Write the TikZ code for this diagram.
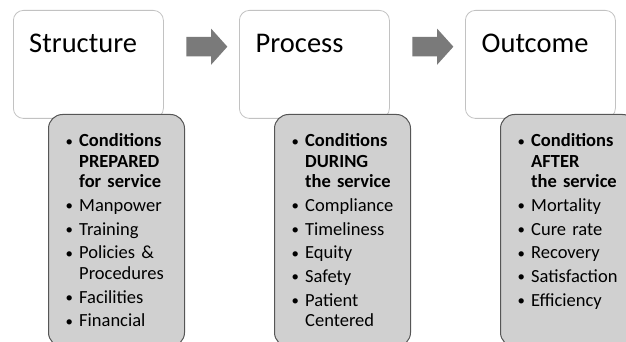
\documentclass[tikz,border=0pt]{standalone}
\usepackage{fontspec}
\setmainfont{Carlito}
\usetikzlibrary{shapes.arrows}

\definecolor{stageline}{HTML}{C2C2C2}
\definecolor{listfill}{HTML}{D0D0D0}
\definecolor{listline}{HTML}{565656}
\definecolor{flowgray}{HTML}{7A7A7A}

% bullet list lines: first item, further items, wrapped continuation lines
\newcommand{\bulletmark}{\makebox[13.5pt][l]{\raisebox{0.6pt}{\scalebox{0.8}{•}}}}
\newcommand{\firstitem}[1]{\noindent\bulletmark#1}
\newcommand{\nextitem}[1]{\par\vspace{3.2pt}\noindent\bulletmark#1}
\newcommand{\wrapline}[1]{\par\noindent\hspace*{13.5pt}#1}

\begin{document}
\begin{tikzpicture}[x=1pt,y=-1pt,
  stagebox/.style={draw=stageline, fill=white, rounded corners=10pt, line width=0.8pt,
    minimum width=150pt, minimum height=108pt, anchor=north west, inner sep=0pt},
  listbox/.style={draw=listline, fill=listfill, rounded corners=14pt, line width=1pt,
    minimum width=136pt, minimum height=232pt, anchor=north west, inner sep=0pt},
  stagetitle/.style={anchor=base west, inner sep=0pt, font=\fontsize{28.5}{34}\selectfont},
  listtext/.style={anchor=base west, inner sep=0pt, text width=130pt,
    font=\fontsize{18.5}{20.5}\selectfont},
  flow/.style={single arrow, fill=flowgray, draw=none, inner xsep=0pt, inner ysep=9.5pt,
    single arrow head extend=8.25pt, single arrow tip angle=96,
    minimum height=41pt}]

\useasboundingbox (0,0) rectangle (626,342);

% stage boxes
\node[stagebox] (s1) at (13,10) {};
\node[stagebox] (s2) at (239,10) {};
\node[stagebox] (s3) at (465,10) {};

\node[stagetitle] (t1) at (29,53) {Structure};
\node[stagetitle] (t2) at (255.5,53) {Process};
\node[stagetitle] (t3) at (481.5,53) {Outcome};

% flow arrows between the stages
\node[flow] (f1) at (202.5,46.7) {};
\node[flow] (f2) at (428.5,46.7) {};

% detail boxes
\node[listbox] (g1) at (48,114) {};
\node[listbox] (g2) at (274,114) {};
\node[listbox] (g3) at (500,114) {};

\node[listtext] (l1) at (65.5,146.7) {%
  \firstitem{\textbf{Conditions}}\wrapline{\textbf{PREPARED}}\wrapline{\textbf{for service}}%
  \nextitem{Manpower}\nextitem{Training}\nextitem{Policies \&}\wrapline{Procedures}%
  \nextitem{Facilities}\nextitem{Financial}};

\node[listtext] (l2) at (291.5,146.7) {%
  \firstitem{\textbf{Conditions}}\wrapline{\textbf{DURING}}\wrapline{\textbf{the service}}%
  \nextitem{Compliance}\nextitem{Timeliness}\nextitem{Equity}\nextitem{Safety}%
  \nextitem{Patient}\wrapline{Centered}};

\node[listtext] (l3) at (517.5,146.7) {%
  \firstitem{\textbf{Conditions}}\wrapline{\textbf{AFTER}}\wrapline{\textbf{the service}}%
  \nextitem{Mortality}\nextitem{Cure rate}\nextitem{Recovery}\nextitem{Satisfaction}%
  \nextitem{Efficiency}};

\end{tikzpicture}
\end{document}
